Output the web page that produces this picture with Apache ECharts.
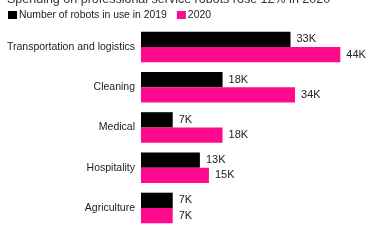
<!DOCTYPE html>
<html><head><meta charset="utf-8">
<script src="https://cdn.jsdelivr.net/npm/echarts@6/dist/echarts.min.js"></script>
<style>html,body{margin:0;padding:0;background:#fff}#c{width:374px;height:249px}</style>
</head><body><div id="c"></div>
<script>
const categories = ["Transportation and logistics","Cleaning","Medical","Hospitality","Agriculture"];
const robots2019 = [33, 18, 7, 13, 7];
const robots2020 = [44, 34, 18, 15, 7];
const seriesNames = ["Number of robots in use in 2019","2020"];
const titleText = "Spending on professional service robots rose 12% in 2020";

const font = "Liberation Sans, Arial, Helvetica, sans-serif";
const chart = echarts.init(document.getElementById('c'));
const lbl = {show:true, position:'right', distance:6, color:'#222', fontSize:11, fontFamily:font, formatter: p => p.value + 'K'};
chart.setOption({
  animation:false,
  title:{text:titleText, left:7, top:-7, padding:0, textStyle:{fontSize:12.5, fontWeight:'normal', color:'#333', fontFamily:font}},
  legend:{left:8, top:10, padding:0, itemWidth:9, itemHeight:8, itemGap:10, icon:'rect',
    textStyle:{fontSize:10.4, color:'#222', fontFamily:font, padding:[0,0,0,-3]}},
  grid:{left:141, right:6.5, top:26.9, bottom:249-228.1, containLabel:false},
  xAxis:{type:'value', min:0, max:50, show:false},
  yAxis:{type:'category', data:categories, inverse:true, axisLine:{show:false}, axisTick:{show:false},
    axisLabel:{color:'#222', fontSize:10.5, fontFamily:font, margin:6}},
  series:[
    {name:seriesNames[0], type:'bar', data:robots2019, barWidth:15.3, barGap:'0%', itemStyle:{color:'#000'}, label:lbl},
    {name:seriesNames[1], type:'bar', data:robots2020, barWidth:15.3, barGap:'0%', itemStyle:{color:'#ff0a8c'}, label:lbl}
  ]
});
</script></body></html>
